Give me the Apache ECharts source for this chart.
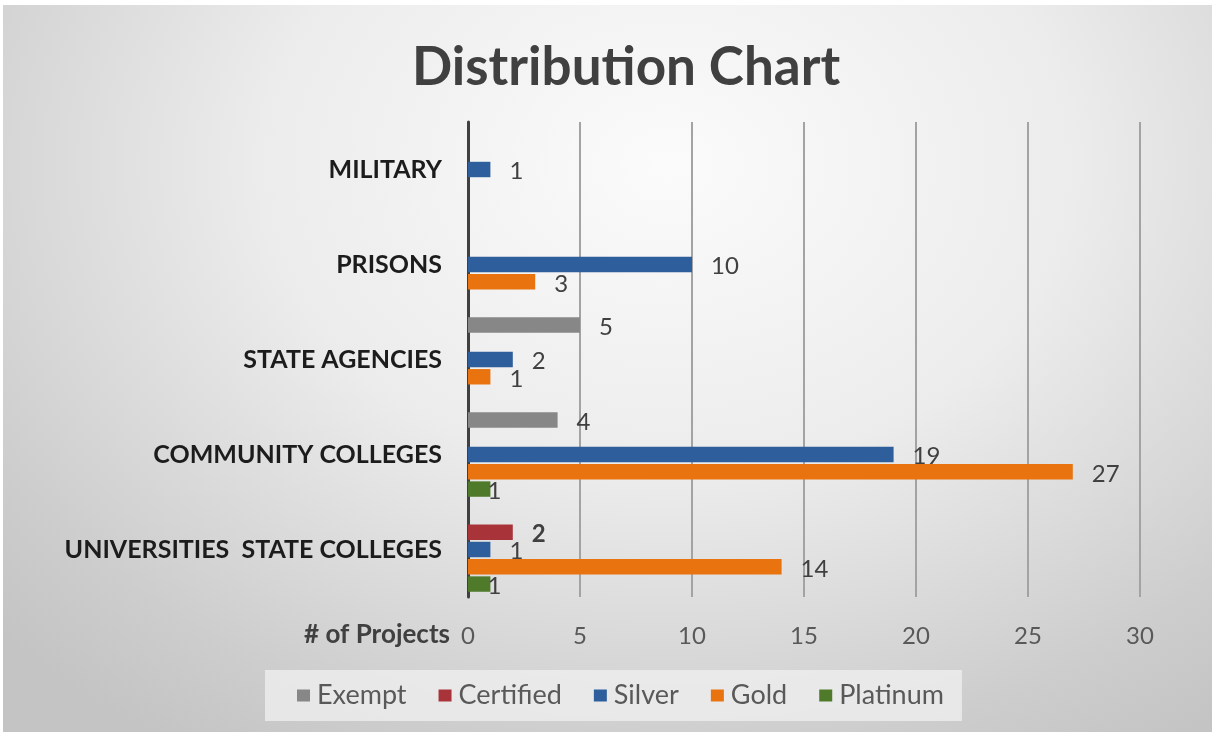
<!DOCTYPE html>
<html>
<head>
<meta charset="utf-8">
<title>Distribution Chart</title>
<script src="https://cdn.jsdelivr.net/npm/echarts@6/dist/echarts.min.js"></script>
<style>
  html, body { margin: 0; padding: 0; background: #ffffff; }
  #chart {
    position: absolute; left: 3px; top: 5px; width: 1209px; height: 727px;
    background: radial-gradient(ellipse 75% 95% at 55% 22%, #fbfbfb 0%, #ececec 45%, #cdcdcd 85%, #c4c4c4 100%);
  }
</style>
</head>
<body>
<div id="chart"></div>
<script>
// Categories, bottom to top
const categories = ['UNIVERSITIES  STATE COLLEGES', 'COMMUNITY COLLEGES', 'STATE AGENCIES', 'PRISONS', 'MILITARY'];

// Number of projects per certification level (null = none)
const exempt    = [null, 4, 5, null, null];
const certified = [2, null, null, null, null];
const silver    = [1, 19, 2, 10, 1];
const gold      = [14, 27, 1, 3, null];
const platinum  = [1, 1, null, null, null];

const seriesNames = ['Exempt', 'Certified', 'Silver', 'Gold', 'Platinum'];
const seriesData = [exempt, certified, silver, gold, platinum];
const colors = ['#878787', '#a8343a', '#2e5e9c', '#e8730f', '#4f7a2a'];

const xTicks = { min: 0, max: 30, interval: 5 };

const FONT = 'Lato, "Open Sans", sans-serif';

const chart = echarts.init(document.getElementById('chart'), null, { renderer: 'canvas' });

const series = seriesNames.map((name, i) => ({
  name: name,
  type: 'bar',
  data: seriesData[i],
  itemStyle: { color: colors[i] },
  barGap: '12%',
  barCategoryGap: '11%',
  label: {
    show: true,
    position: 'right',
    distance: name === 'Platinum' ? -3 : 19,
    offset: [0, 2],
    color: '#404040',
    fontFamily: FONT,
    fontSize: 24,
    fontWeight: name === 'Certified' ? 'bold' : 'normal'
  }
}));

chart.setOption({
  animation: false,
  backgroundColor: 'transparent',
  title: {
    text: 'Distribution Chart',
    left: 404,
    top: 31,
    textStyle: { fontFamily: FONT, fontSize: 53, fontWeight: 'bold', color: '#404040' }
  },
  grid: { left: 465, right: 72, top: 117, bottom: 135, containLabel: false },
  xAxis: {
    type: 'value',
    min: xTicks.min,
    max: xTicks.max,
    interval: xTicks.interval,
    name: '# of Projects',
    nameLocation: 'start',
    nameGap: 18,
    nameTextStyle: {
      fontFamily: FONT, fontSize: 26, fontWeight: 'bold', color: '#404040',
      align: 'right', verticalAlign: 'top', padding: [25, 0, 0, 0]
    },
    axisLine: { show: false },
    axisTick: { show: false },
    axisLabel: { margin: 27, fontFamily: FONT, fontSize: 24, color: '#595959' },
    splitLine: { show: true, lineStyle: { color: '#a3a3a3', width: 2 } }
  },
  yAxis: {
    type: 'category',
    data: categories,
    axisLine: { show: true, lineStyle: { color: '#404040', width: 3 } },
    axisTick: { show: false },
    axisLabel: { margin: 26, fontFamily: FONT, fontSize: 25, fontWeight: 'bold', color: '#1c1c1c' },
    splitLine: { show: false }
  },
  legend: {
    data: seriesNames,
    left: 262,
    top: 665,
    padding: [12, 18, 12, 32],
    backgroundColor: 'rgba(240,240,240,0.75)',
    itemWidth: 13,
    itemHeight: 12,
    itemGap: 32,
    icon: 'rect',
    textStyle: { fontFamily: FONT, fontSize: 27, color: '#595959', padding: [0, 0, 0, 2] }
  },
  series: series
});
</script>
</body>
</html>
